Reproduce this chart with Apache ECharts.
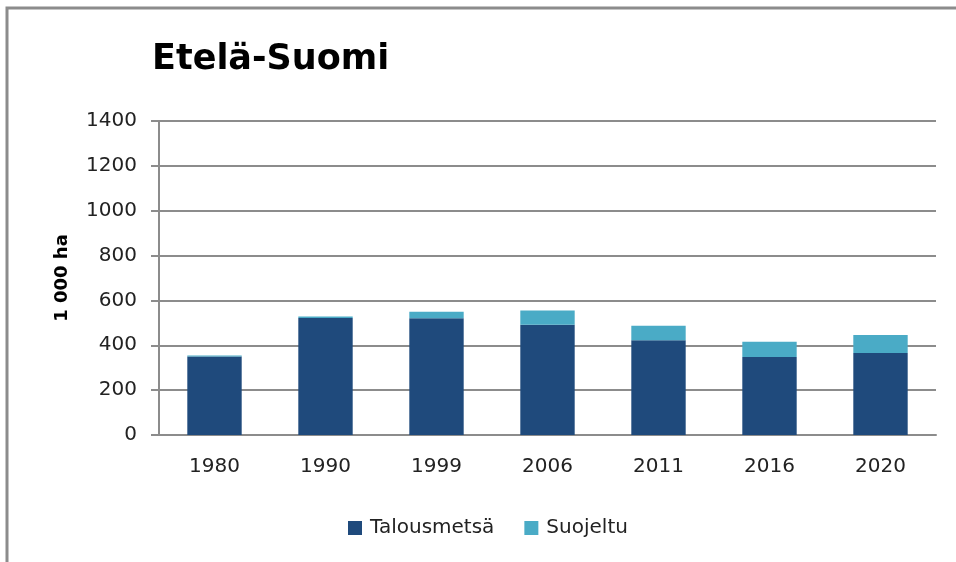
<!DOCTYPE html>
<html>
<head>
<meta charset="utf-8">
<script src="https://cdn.jsdelivr.net/npm/echarts@6/dist/echarts.min.js"></script>
<style>html,body{margin:0;padding:0;background:#fff;}#c{width:956px;height:562px;}</style>
</head>
<body>
<div id="c"></div>
<script>
const years = ['1980', '1990', '1999', '2006', '2011', '2016', '2020'];
const talousmetsa = [350, 522, 521, 492, 422, 348, 366];
const suojeltu = [4, 6, 28, 63, 65, 68, 80];
const yTicks = [0, 200, 400, 600, 800, 1000, 1200, 1400];

const font = 'DejaVu Sans';
const chart = echarts.init(document.getElementById('c'));
chart.setOption({
  animation: false,
  backgroundColor: '#fff',
  graphic: [{
    type: 'rect', silent: true,
    shape: { x: 7, y: 8, width: 1000, height: 700 },
    style: { fill: 'none', stroke: '#8c8c8c', lineWidth: 3 }
  }],
  title: {
    text: 'Etelä-Suomi', left: 147, top: 37,
    textStyle: { fontFamily: font, fontWeight: 'bold', fontSize: 35, color: '#000' }
  },
  legend: {
    left: 343, top: 513,
    itemWidth: 14, itemHeight: 14, itemGap: 30,
    icon: 'rect',
    textStyle: { fontFamily: font, fontSize: 20, color: '#222', padding: [0, 0, 0, 3] },
    data: ['Talousmetsä', 'Suojeltu']
  },
  grid: { left: 159, right: 20, top: 121, bottom: 127, containLabel: false },
  xAxis: {
    type: 'category', data: years,
    axisLine: { show: true, lineStyle: { color: '#8c8c8c', width: 2 } },
    axisTick: { show: false },
    axisLabel: { fontFamily: font, fontSize: 20, color: '#222', margin: 22 }
  },
  yAxis: {
    type: 'value', min: yTicks[0], max: yTicks[yTicks.length - 1], interval: 200,
    name: '1 000 ha', nameLocation: 'middle', nameGap: 88,
    nameTextStyle: { fontFamily: font, fontWeight: 'bold', fontSize: 18, color: '#000' },
    axisLine: { show: true, lineStyle: { color: '#8c8c8c', width: 2 } },
    axisTick: { show: true, length: 8, lineStyle: { color: '#8c8c8c', width: 2 } },
    axisLabel: { fontFamily: font, fontSize: 20, color: '#222', margin: 22,
      formatter: v => String(v) },
    splitLine: { show: true, lineStyle: { color: '#8c8c8c', width: 2 } }
  },
  series: [
    { name: 'Talousmetsä', type: 'bar', stack: 's', data: talousmetsa, barWidth: '49%',
      itemStyle: { color: '#1f4a7c' } },
    { name: 'Suojeltu', type: 'bar', stack: 's', data: suojeltu, barWidth: '49%',
      itemStyle: { color: '#4aabc6' } }
  ]
});
</script>
</body>
</html>
